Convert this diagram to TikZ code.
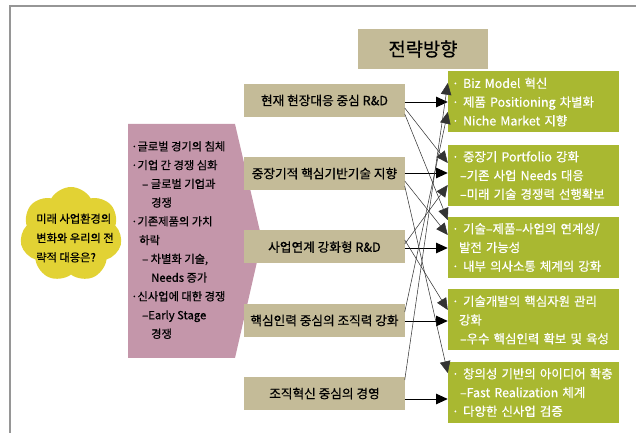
\documentclass[tikz,border=0pt]{standalone}
\usepackage{fontspec}
\setmainfont{Noto Sans CJK KR}[FakeBold=0.6]
\usetikzlibrary{calc,arrows.meta,shapes.symbols}

\definecolor{tanbox}{RGB}{196,187,152}
\definecolor{greenbox}{RGB}{169,184,49}
\definecolor{pinkbox}{RGB}{196,150,170}
\definecolor{cloudyellow}{RGB}{226,210,52}
\definecolor{framegray}{RGB}{150,150,150}

\tikzset{
  strat/.style={fill=tanbox, minimum width=4.8cm, minimum height=0.99cm, inner sep=0pt,
    font=\fontsize{10.8}{12}\selectfont},
  goal/.style={fill=greenbox, text=white, text width=4.89cm, inner xsep=0.12cm, inner ysep=0pt,
    minimum height=1.83cm, align=left, font=\fontsize{10.6}{16}\selectfont},
  flow/.style={line width=0.8pt, -{Triangle[length=10pt,width=9pt]}},
  cross/.style={line width=0.45pt, black!80, -{Triangle[length=10pt,width=9pt]}}
}

\begin{document}
\begin{tikzpicture}[x=0.03cm,y=0.03cm]
\useasboundingbox (0,0) rectangle (636,-433);
\draw[framegray, line width=1.2pt] (636,-6) -- (10,-6) -- (10,-433);
\node[fill=tanbox, minimum width=3.9cm, minimum height=1.2cm, font=\fontsize{16}{18}\selectfont] (head) at (423,-49) {전략방향};

% environment
\node[cloud, cloud puffs=7, cloud puff arc=120, aspect=1.07, fill=cloudyellow, minimum width=3.06cm, minimum height=2.85cm] (cloud) at (71,-234.5) {};
\node[align=left, inner sep=0pt, font=\fontsize{9.6}{16.5}\selectfont] (ask) at (75,-238) {미래 사업환경의\\변화와 우리의 전\\략적 대응은?};
\fill[pinkbox] (128,-124) -- (235,-124) -- (262,-240) -- (235,-358) -- (128,-358) -- cycle;
\node[anchor=north west, align=left, inner sep=0pt, font=\fontsize{9.6}{16}\selectfont] (issues) at (131,-141) {%
·글로벌 경기의 침체\\
·기업 간 경쟁 심화\\
\hspace*{0.33cm}– 글로벌 기업과\\
\hspace*{0.6cm}경쟁\\
·기존제품의 가치\\
\hspace*{0.24cm}하락\\
\hspace*{0.33cm}– 차별화 기술,\\
\hspace*{0.6cm}Needs 증가\\
·신사업에 대한 경쟁\\
\hspace*{0.33cm}–Early Stage\\
\hspace*{0.6cm}경쟁};

% strategy
\node[strat] (b1) at (324.5,-100.5) {현재 현장대응 중심 R\&D};
\node[strat] (b2) at (324.5,-173.5) {중장기적 핵심기반기술 지향};
\node[strat] (b3) at (324.5,-247) {사업연계 강화형 R\&D};
\node[strat] (b4) at (324.5,-320.5) {핵심인력 중심의 조직력 강화};
\node[strat] (b5) at (324.5,-393.5) {조직혁신 중심의 경영};

\node[goal] (g1) at (533.5,-102) {· Biz Model 혁신\\· 제품 Positioning 차별화\\· Niche Market 지향};
\node[goal] (g2) at (533.5,-175.5) {· 중장기 Portfolio 강화\\\hspace*{0.24cm}–기존 사업 Needs 대응\\\hspace*{0.24cm}–미래 기술 경쟁력 선행확보};
\node[goal] (g3) at (533.5,-247.5) {· 기술–제품–사업의 연계성/\\\hspace*{0.21cm}발전 가능성\\· 내부 의사소통 체계의 강화};
\node[goal] (g4) at (533.5,-320) {· 기술개발의 핵심자원 관리\\\hspace*{0.21cm}강화\\\hspace*{0.24cm}–우수 핵심인력 확보 및 육성};
\node[goal] (g5) at (533.5,-392.5) {· 창의성 기반의 아이디어 확충\\\hspace*{0.24cm}–Fast Realization 체계\\· 다양한 신사업 검증};

\foreach \i/\s in {1/-1.5,2/0.5,3/-1,4/-0.5,5/-5.5}
  \draw[flow] ($(b\i.east)+(0,\s)$) -- ($(g\i.west |- b\i.east)+(0,\s)$);
\foreach \a/\sa/\b/\sb in {1/-7.5/2/12.5, 1/-13.5/3/27.5, 2/-7.5/3/12.5, 2/-12.5/5/19.5,
    3/7/4/10, 3/3/2/-9.5, 4/8.5/1/-10, 5/13.5/1/19}
  \draw[cross] ($(b\a.east)+(0,\sa)$) -- ($(g\b.west)+(0,\sb)$);
\end{tikzpicture}
\end{document}
